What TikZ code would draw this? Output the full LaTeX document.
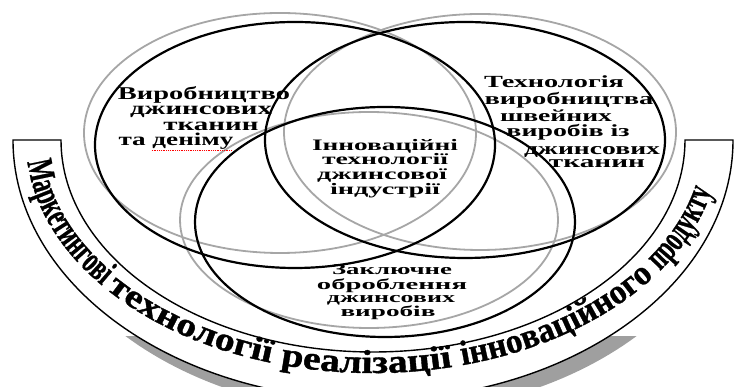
\documentclass[tikz,border=0pt]{standalone}
\usepackage{fontspec}
\usepackage{graphicx}
\setmainfont{Liberation Serif}
\newfontfamily\bnfA[FakeStretch=0.62,FakeBold=0.6]{Liberation Serif Bold}
\newfontfamily\bnfB[FakeStretch=1.2,FakeBold=1.2]{Liberation Serif Bold}
\newfontfamily\bnfC[FakeStretch=0.95,FakeBold=0.8]{Liberation Serif Bold}
\newcommand\bnA{\fontsize{37}{37}\bnfA}
\newcommand\bnB{\fontsize{33}{33}\bnfB}
\newcommand\bnC{\fontsize{35}{35}\bnfC}
\newcommand\wl[2]{\resizebox{#1pt}{\height}{#2}}
\usetikzlibrary{decorations.text,calc}
\tikzset{
  blk/.style={draw=black, line width=2.2pt},
  gry/.style={draw=gray!70, line width=1.8pt},
  txt/.style={anchor=base, inner sep=0pt},
  fA/.style={font=\fontsize{18}{18}\selectfont\bfseries},
  fB/.style={font=\fontsize{17}{17}\selectfont\bfseries},
  fC/.style={font=\fontsize{16}{16}\selectfont\bfseries},
  fD/.style={font=\fontsize{15}{15}\selectfont\bfseries},
}
\begin{document}
\begin{tikzpicture}[x=1pt,y=1pt]
\useasboundingbox (0,0) rectangle (734,387);
\clip (0,0) rectangle (734,387);
% banner shadow
\begin{scope}
  \clip (0,0) rectangle (734,50);
  \fill[gray!75] (381,233) ellipse[x radius=358pt, y radius=260pt];
\end{scope}
% banner
\fill[white] (13,247) arc[start angle=180, end angle=360, x radius=360pt, y radius=260pt] -- cycle;
\draw[line width=1.4pt] (13,247) arc[start angle=180, end angle=360, x radius=360pt, y radius=260pt]
  -- (685,247) arc[start angle=0, end angle=-180, x radius=312pt, y radius=212pt] -- cycle;
\path[decorate, decoration={text along path, text align={left indent=22pt},
  text={|\bnA|Маркетингові |\bnB|технології реалізації |\bnC|інноваційного |\bnA|продукту}}]
  (26,247) arc[start angle=180, end angle=360, x radius=347pt, y radius=233pt];
% gray ellipses
\draw[gry] (280,254) ellipse[x radius=196pt, y radius=120pt];
\draw[gry] (480,255) ellipse[x radius=196pt, y radius=118pt];
\draw[gry] (369,167) ellipse[x radius=189pt, y radius=108pt];
% black ellipses
\draw[blk] (295,242) ellipse[x radius=200pt, y radius=123pt];
\draw[blk] (465,247) ellipse[x radius=200pt, y radius=118pt];
\draw[blk] (385,165) ellipse[x radius=190pt, y radius=115pt];
% left block
\node[txt,fA] (l1) at (204,287) {\wl{172}{Виробництво}};
\node[txt,fA] (l2) at (201,272) {\wl{142}{джинсових}};
\node[txt,fA] (l3) at (211,256) {\wl{95}{тканин}};
\node[txt,fA] (l4) at (176,241) {\wl{115}{та деніму}};
\draw[red, densely dotted, line width=0.8pt] ($(l4.base east)+(-82pt,-4pt)$) -- ($(l4.base east)+(-2pt,-4pt)$);
% right block
\node[txt,fB] (r1) at (554,299) {\wl{140}{Технологія}};
\node[txt,fB] (r2) at (569,282) {\wl{169}{виробництва}};
\node[txt,fB] (r3) at (556,265) {\wl{112}{швейних}};
\node[txt,fB] (r4) at (568,250) {\wl{123}{виробів із}};
\node[txt,fB] (r5) at (592,232) {\wl{136}{джинсових}};
\node[txt,fB] (r6) at (597,219) {\wl{96}{тканин}};
% centre block
\node[txt,fC] (c1) at (385,236) {\wl{146}{Інноваційні}};
\node[txt,fC] (c2) at (385,222) {\wl{126}{технології}};
\node[txt,fC] (c3) at (382,207) {\wl{130}{джинсової}};
\node[txt,fC] (c4) at (385,192) {\wl{110}{індустрії}};
% bottom block
\node[txt,fD] (b1) at (392,112) {\wl{120}{Заключне}};
\node[txt,fD] (b2) at (392,97) {\wl{150}{оброблення}};
\node[txt,fD] (b3) at (391,84) {\wl{128}{джинсових}};
\node[txt,fD] (b4) at (388,70) {\wl{95}{виробів}};
\end{tikzpicture}
\end{document}
